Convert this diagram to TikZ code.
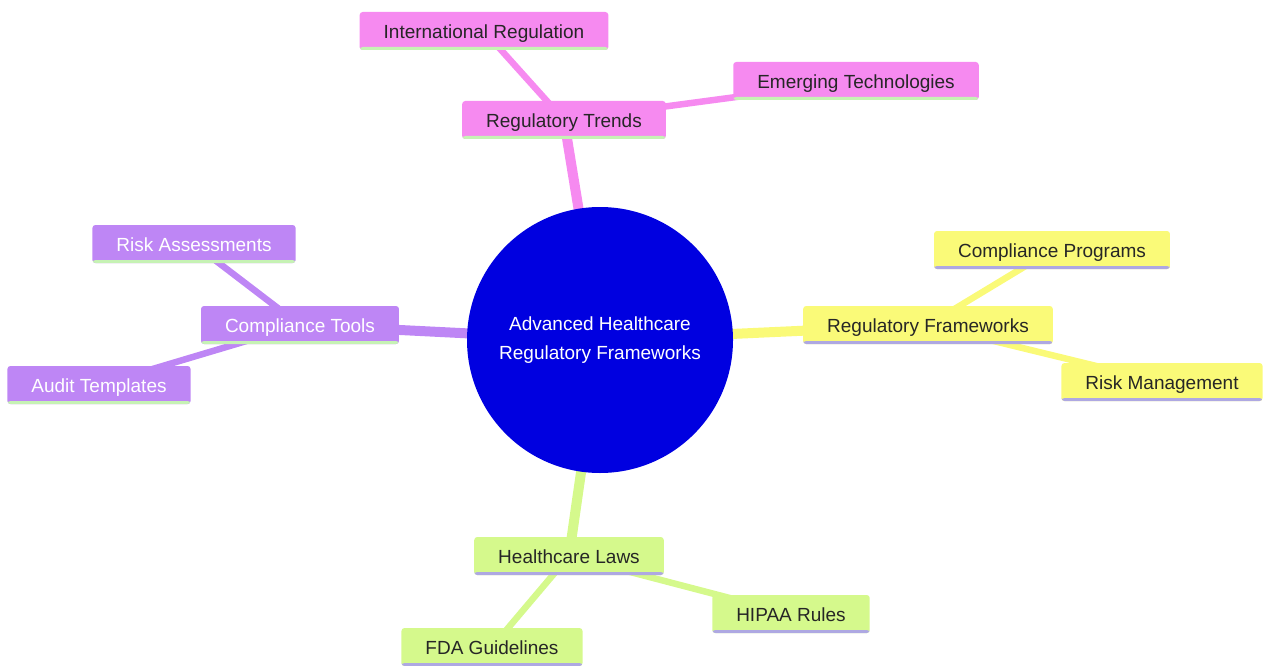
\documentclass[tikz,border=0pt]{standalone}
\usepackage{fontspec}
\setmainfont{Liberation Sans}
\usetikzlibrary{backgrounds}
\definecolor{pinkb}{HTML}{F68AF0}
\definecolor{purpb}{HTML}{BE86F5}
\definecolor{yelb}{HTML}{FAFA78}
\definecolor{greenb}{HTML}{D5F98C}
\definecolor{rootb}{HTML}{0000E0}
\definecolor{lgreen}{HTML}{C6F2B4}
\definecolor{lav}{HTML}{AEA8E2}

\begin{document}
\begin{tikzpicture}
[x=1pt,y=-1pt,
font=\fontsize{19}{23}\selectfont,
box/.style={rectangle,rounded corners=3pt,inner xsep=24pt,minimum height=38pt,text height=17pt,text depth=1.2pt,text=black!85},
under/.style={path picture={\fill[#1] (path picture bounding box.south west) rectangle ([yshift=3pt]path picture bounding box.south east);}},
pinkbox/.style={box,fill=pinkb,under=lgreen},
purpbox/.style={box,fill=purpb,under=lgreen,text=white},
yelbox/.style={box,fill=yelb,under=lav},
greenbox/.style={box,fill=greenb,under=lav},
thick edge/.style={line width=10pt},
thin edge/.style={line width=6.5pt}]
\useasboundingbox (0,0) rectangle (1263,666);

\node[circle,fill=rootb,minimum size=266pt,text=white,align=center] (root) at (600,340) {Advanced Healthcare\\[6pt]Regulatory Frameworks};

\node[pinkbox] (trends) at (564,120) {Regulatory Trends};
\node[pinkbox] (intl) at (484,31) {International Regulation};
\node[pinkbox] (emerg) at (856,81) {Emerging Technologies};

\node[purpbox] (tools) at (300,325) {Compliance Tools};
\node[purpbox] (riskass) at (194,244) {Risk Assessments};
\node[purpbox] (audit) at (99,385) {Audit Templates};

\node[yelbox] (frame) at (928,325) {Regulatory Frameworks};
\node[yelbox] (progs) at (1052,250) {Compliance Programs};
\node[yelbox] (riskman) at (1162,382) {Risk Management};

\node[greenbox] (laws) at (569,556) {Healthcare Laws};
\node[greenbox] (hipaa) at (791,614) {HIPAA Rules};
\node[greenbox] (fda) at (492,647) {FDA Guidelines};

\begin{scope}[on background layer]
\draw [pinkb,thick edge] (root.center) -- (trends.center);
\draw [pinkb,thin edge] (trends.center) -- (intl.center);
\draw [pinkb,thin edge] (trends.center) -- (emerg.center);
\draw [purpb,thick edge] (root.center) -- (tools.center);
\draw [purpb,thin edge] (tools.center) -- (riskass.center);
\draw [purpb,thin edge] (tools.center) -- (audit.center);
\draw [yelb,thick edge] (root.center) -- (frame.center);
\draw [yelb,thin edge] (frame.center) -- (progs.center);
\draw [yelb,thin edge] (frame.center) -- (riskman.center);
\draw [greenb,thick edge] (root.center) -- (laws.center);
\draw [greenb,thin edge] (laws.center) -- (hipaa.center);
\draw [greenb,thin edge] (laws.center) -- (fda.center);
\end{scope}
\end{tikzpicture}
\end{document}
